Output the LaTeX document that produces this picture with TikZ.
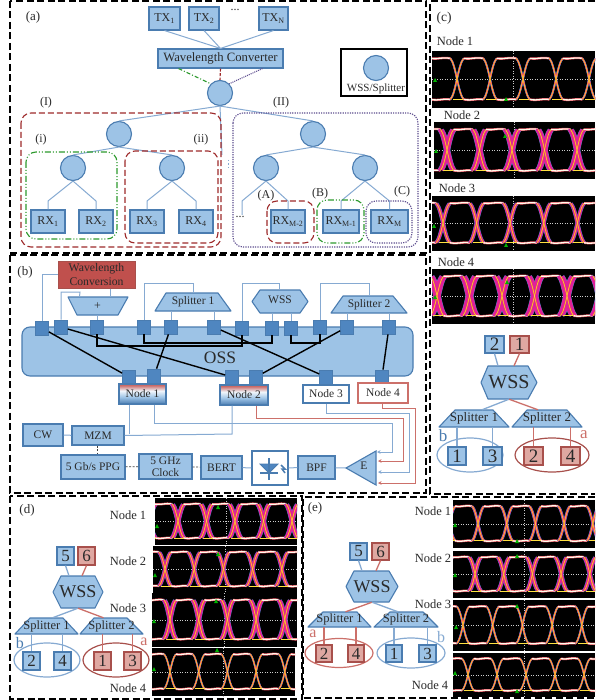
\documentclass[tikz,border=0pt]{standalone}
\usepackage{fontspec}
\setmainfont{Liberation Serif}
\usetikzlibrary{arrows.meta,shapes.geometric}
\definecolor{nfill}{HTML}{9DC3E6}
\definecolor{nedge}{HTML}{4A7CB0}
\definecolor{lblue}{HTML}{86AAD2}
\definecolor{rfill}{HTML}{DFA8A2}
\definecolor{redge}{HTML}{A8504C}
\definecolor{lred}{HTML}{CC706A}
\definecolor{txt}{HTML}{2A2A2A}
\definecolor{dred}{HTML}{9E2A2B}
\definecolor{dgreen}{HTML}{2E9A2E}
\definecolor{dpurple}{HTML}{5F4F90}
\definecolor{portc}{HTML}{4F86C0}
\definecolor{convc}{HTML}{C0504D}
\definecolor{emag}{HTML}{E0209A}
\definecolor{eblue}{HTML}{3090D0}
\definecolor{eora}{HTML}{F56A30}
\definecolor{eyel}{HTML}{FFE040}
\pgfdeclareverticalshading{nodegrad}{100bp}{color(0bp)=(nedge); color(25bp)=(nedge); color(42bp)=(nfill); color(58bp)=(white!85!nfill); color(72bp)=(convc!85!white); color(100bp)=(convc!85!white)}
\newcommand\fsz[1]{\fontsize{#1}{#1}\selectfont}
\tikzset{
 x=1pt,y=-1pt,
 panelframe/.style={draw=black,line width=1.5pt,dash pattern=on 7pt off 3.5pt},
 bluebox/.style={draw=nedge,fill=nfill,line width=1.1pt,inner sep=0pt,text=txt},
 redbox/.style={draw=redge,fill=rfill,line width=1.1pt,inner sep=0pt,text=txt},
 ghost/.style={inner sep=0pt,text=txt},
 disc/.style={circle,draw=nedge,fill=nfill,line width=1.1pt,minimum size=25pt,inner sep=0pt},
 lab/.style={inner sep=0pt,text=txt},
 wire/.style={draw=lblue,line width=1pt},
 rwire/.style={draw=lred,line width=1pt},
 bwire/.style={draw=black,line width=1.4pt},
 tbl/.style={draw=lblue,line width=1.3pt},
 trd/.style={draw=lred,line width=1.3pt},
 port/.style={draw=nedge,fill=portc,line width=.7pt,minimum width=13pt,minimum height=14pt,inner sep=0pt},
 regred/.style={draw=dred,line width=1.1pt,dash pattern=on 6pt off 3pt,rounded corners=10pt},
 reggreen/.style={draw=dgreen,line width=1.1pt,dash pattern=on 6pt off 2pt on 1pt off 2pt on 1pt off 2pt,rounded corners=10pt},
 regpurple/.style={draw=dpurple,line width=1.1pt,dash pattern=on 1.2pt off 1.2pt,rounded corners=10pt},
 ring/.style={ellipse,line width=1.2pt,inner sep=0pt},
 bdash/.style={draw=black!75,line width=.7pt,dash pattern=on 2pt off 1.5pt},
 intoE/.style={-{Stealth[length=3.5pt,width=3.5pt]}},
}
\newcommand\bx[7]{%
 \pgfmathsetmacro\bcx{(#3+#5)/2}\pgfmathsetmacro\bcy{(#4+#6)/2}%
 \pgfmathsetmacro\bw{#5-#3}\pgfmathsetmacro\bh{#6-#4}%
 \node[#1,minimum width=\bw pt,minimum height=\bh pt] (#2) at (\bcx,\bcy) {#7};}
\newcommand\trapn[9]{%
 \filldraw[draw=nedge,fill=nfill,line width=1.1pt,line join=round] (#3,#8)--(#4,#7)--(#5,#7)--(#6,#8)--cycle;
 \pgfmathsetmacro\bcx{(#3+#6)/2}\pgfmathsetmacro\bcy{(#7+#8)/2}%
 \pgfmathsetmacro\bw{max(#6-#3,#5-#4)}\pgfmathsetmacro\bh{abs(#8-#7)}%
 \node[ghost,#1,minimum width=\bw pt,minimum height=\bh pt] (#2) at (\bcx,\bcy) {#9};}
\newcommand\hexn[9]{%
 \pgfmathsetmacro\bcx{(#3+#6)/2}\pgfmathsetmacro\bcy{(#7+#8)/2}%
 \filldraw[draw=nedge,fill=nfill,line width=1.1pt,line join=round] (#3,\bcy)--(#4,#7)--(#5,#7)--(#6,\bcy)--(#5,#8)--(#4,#8)--cycle;
 \pgfmathsetmacro\bw{#6-#3}\pgfmathsetmacro\bh{#8-#7}%
 \node[ghost,#1,minimum width=\bw pt,minimum height=\bh pt] (#2) at (\bcx,\bcy) {#9};}
\newcommand\eyediag[8]{%
 \begin{scope}
 \clip (#1,#2) rectangle ++(#3,#4);
 \fill[black] (#1,#2) rectangle ++(#3,#4);
 \pgfmathsetmacro\eyt{#2+.13*#4}\pgfmathsetmacro\eyb{#2+.85*#4}%
 \pgfmathsetmacro\eym{#2+.5*#4}\pgfmathsetmacro\exm{#1+.5*#3}%
 \draw[white!80!black,line width=.3pt,dash pattern=on 1pt off 1.5pt] (#1,\eym)--++(#3,0);
 \draw[white!80!black,line width=.3pt,dash pattern=on 1pt off 1.5pt] (\exm,#2)--++(0,#4);
 \pgfmathsetmacro\ea{.2*#6}\pgfmathsetmacro\ev{.16*(\eyb-\eyt)}%
 \foreach \k in {-1,...,6}{%
  \pgfmathsetmacro\ecx{#5+\k*#6}%
  \pgfmathsetmacro\el{\ecx-\ea}\pgfmathsetmacro\er{\ecx+\ea}%
  \pgfmathsetmacro\eli{\ecx-.15*\ea}\pgfmathsetmacro\eri{\ecx+.15*\ea}%
  \pgfmathsetmacro\ept{\eyt+\ev}\pgfmathsetmacro\epb{\eyb-\ev}%
  \foreach \es/\ecol/\ew in {-#7/eblue/.6,#7/eblue/.6,-#7/emag/0,#7/emag/0}{%
   \pgfmathsetmacro\elw{#8+\ew}%
   \draw[\ecol,line width=\elw pt] (\el+\es,\eyt) .. controls (\eli+\es,\ept) and (\eri+\es,\epb) .. (\er+\es,\eyb);
   \draw[\ecol,line width=\elw pt] (\er-\es,\eyt) .. controls (\eri-\es,\ept) and (\eli-\es,\epb) .. (\el-\es,\eyb);
  }
  \foreach \ecol/\elw in {eora/1.2,eyel/.4}{%
   \draw[\ecol,line width=\elw pt] (\el,\eyt) .. controls (\eli,\ept) and (\eri,\epb) .. (\er,\eyb);
   \draw[\ecol,line width=\elw pt] (\er,\eyt) .. controls (\eri,\ept) and (\eli,\epb) .. (\el,\eyb);
  }
  \pgfmathsetmacro\en{\ecx+#6-\ea}\pgfmathsetmacro\ec{\er+.3*#6}\pgfmathsetmacro\ed{\en-.3*#6}%
  \foreach \ecol/\elw in {eora!60!emag/2.3,white!90!eyel/1.3}{%
   \draw[\ecol,line width=\elw pt] (\er,\eyt) .. controls (\ec,\eyt+1) and (\ed,\eyt-1.5) .. (\en,\eyt);
   \draw[\ecol,line width=\elw pt] (\er,\eyb) .. controls (\ec,\eyb+1.5) and (\ed,\eyb-1) .. (\en,\eyb);
  }
  \draw[eyel,line width=.7pt] (\ecx-4,\eyb) -- (\ecx+6,\eyb);
 }
 \end{scope}}
\newcommand\gmark[2]{\fill[green!70!black] (#1,#2) ++(0,-2) -- ++(2,4) -- ++(-4,0) -- cycle;}
\begin{document}
\begin{tikzpicture}
\useasboundingbox (0,0) rectangle (595,700);
\fill[white] (0,0) rectangle (595,700);
% ---------- panel (a)
\tikzset{f12/.style={font=\fsz{12}},f11/.style={font=\fsz{11}},f13/.style={font=\fsz{13}},nlb/.style={font=\fsz{12.5}}}
\bx{bluebox,f12}{tx1}{149}{7}{180}{30}{TX\textsubscript{1}}
\bx{bluebox,f12}{tx2}{189}{7}{219}{30}{TX\textsubscript{2}}
\bx{bluebox,f12}{txn}{259}{7}{288}{30}{TX\textsubscript{N}}
\node[lab,f12] (txdots) at (235,10) {...};
\bx{bluebox,font=\fsz{12.7}}{wc}{158}{49}{283}{68}{Wavelength Converter}
\node[disc] (c0) at (220,93) {};
\node[disc] (l1) at (119,134) {};
\node[disc] (l2) at (313,134) {};
\node[disc] (m1) at (73,168) {};
\node[disc] (m2) at (172,168) {};
\node[disc] (m3) at (266,168) {};
\node[disc] (m4) at (365,168) {};
\bx{bluebox,f12}{rx1}{31}{210}{65}{233}{RX\textsubscript{1}}
\bx{bluebox,f12}{rx2}{79}{210}{113}{233}{RX\textsubscript{2}}
\bx{bluebox,f12}{rx3}{130}{210}{164}{233}{RX\textsubscript{3}}
\bx{bluebox,f12}{rx4}{179}{210}{213}{233}{RX\textsubscript{4}}
\bx{bluebox,f12}{rxa}{271}{210}{305}{233}{RX\textsubscript{M-2}}
\bx{bluebox,f12}{rxb}{323}{210}{359}{233}{RX\textsubscript{M-1}}
\bx{bluebox,f12}{rxc}{371}{210}{408}{233}{RX\textsubscript{M}}
\coordinate (gapend) at (222,155);
\coordinate (leftend) at (242,215);
\draw[wire] (tx1.south) -- (wc.north) (tx2.south) -- (wc.north) (txn.south) -- (wc.north);
\draw[wire] (c0.south) -- (l1.north) (c0.south) -- (l2.north) (c0.south) -- (gapend);
\draw[wire] (l1.south) -- (m1.north) (l1.south) -- (m2.north) (l2.south) -- (m3.north) (l2.south) -- (m4.north);
\draw[wire] (m1.south) -- (rx1.north |- 0,201) -- (rx1.north);
\draw[wire] (m1.south) -- (rx2.north |- 0,201) -- (rx2.north);
\draw[wire] (m2.south) -- (rx3.north |- 0,201) -- (rx3.north);
\draw[wire] (m2.south) -- (rx4.north |- 0,201) -- (rx4.north);
\draw[wire] (m3.south) -- (242,201) -- (leftend);
\draw[wire] (m3.south) -- (rxa.north |- 0,201) -- (rxa.north);
\draw[wire] (m4.south) -- (rxb.north |- 0,201) -- (rxb.north);
\draw[wire] (m4.south) -- (rxc.north |- 0,201) -- (rxc.north);
\draw[draw=dgreen,line width=1.1pt,dash pattern=on 4pt off 2pt on 1pt off 2pt] ([xshift=-42pt]wc.south) -- (c0.north west);
\draw[draw=dred,line width=1.1pt,dash pattern=on 3pt off 1.5pt] (wc.south) -- (c0.north);
\draw[draw=dpurple,line width=1.1pt,dash pattern=on 1pt off 1pt] ([xshift=42pt]wc.south) -- (c0.north east);
\draw[regred] (21,113) rectangle (221,247);
\draw[reggreen] (26,152) rectangle (117,239);
\draw[regred] (125,151) rectangle (218,243);
\draw[regpurple] (233,113) rectangle (418,247);
\draw[regred] (267,201) rectangle (314,243);
\draw[reggreen] (317,200) rectangle (364,243);
\draw[regpurple] (366,201) rectangle (412,243);
\draw[draw=lblue,line width=1pt,dash pattern=on 1.5pt off 2pt] (228,160) -- (228,170);
\node[lab,f12] (rxdots) at (240,217) {...};
\node[lab,f13] (pa) at (33,17) {(a)};
\node[lab,f12] (pI) at (46,103) {(I)};
\node[lab,f12] (pII) at (281,103) {(II)};
\node[lab,f12] (pi) at (41,140) {(i)};
\node[lab,f12] (pii) at (201,140) {(ii)};
\node[lab,f12] (pA) at (266,196) {(A)};
\node[lab,f12] (pB) at (320,194) {(B)};
\node[lab,f12] (pC) at (402,192) {(C)};
\bx{draw=black,line width=1.2pt,fill=white,inner sep=0pt}{legend}{341}{49}{407}{96}{}
\node[disc] (legc) at (376,68) {};
\node[lab,f11] (legt) at (376,89) {WSS/Splitter};
% ---------- panel (b)
\bx{draw=nedge,fill=nfill,line width=1.1pt,rounded corners=8pt}{oss}{22}{327}{413}{376}{}
\node[lab,font=\fsz{17.5}] (osst) at (220,358) {OSS};
\bx{draw=redge,fill=convc,line width=1pt,inner sep=0pt,text=txt,align=center,font=\fsz{11.7}}{conv}{58}{261}{135}{288}{Wavelength\\[2pt]Conversion}
\trapn{font=\fsz{12}}{adder}{77}{68}{128}{118}{297}{315}{+}
\trapn{font=\fsz{11.5}}{sp1}{155}{166}{218}{231}{293}{311}{Splitter 1}
\hexn{font=\fsz{11.5}}{wssb}{252}{260}{300}{308}{290}{313}{\raisebox{4pt}{WSS}}
\trapn{font=\fsz{11.5}}{sp2}{331}{343}{393}{407}{296}{313}{Splitter 2}
\foreach \n/\px/\py in {p1/42/328,p2/61/327,p3/97/327,p4/144/327,p5/171/327,p6/214/327,p7/242/328,p8/272/328,p9/291/328,p10/320/327,p11/347/327,p12/389/327,q1/129/377,q2/154/376,q3/232/377,q4/256/377,q5/326/377,q6/382/377}{
 \node[port] (\n) at (\px,\py) {};
}
\draw[bwire] (p1) -- (q1);
\draw[bwire] (p2) -- (q3);
\draw[bwire] (p5) -- (q2);
\draw[bwire] (p6) -- (q5);
\draw[bwire] (p11) -- (q4);
\draw[bwire] (p12) -- (q6);
\draw[bwire] (p3.south) -- (97,346) -- (p7.south |- 0,346) -- (p7.south);
\draw[bwire] (p4.south) -- (144,343) -- (p8.south |- 0,343) -- (p8.south);
\draw[bwire] (p9.south) -- (291,343) -- (p10.south |- 0,343) -- (p10.south);
\draw[wire] (p1.north) |- (conv.west);
\draw[wire] (p2.north) -- (61,292) -- (80,292) -- ([xshift=-18pt]adder.north);
\draw[wire] ([xshift=13.5pt]conv.south) -- ([xshift=12.5pt]adder.north);
\draw[wire] (p3.north) -- (p3.north |- adder.south);
\draw[wire] (p4.north) -- (144,283) -- (193,283) -- (sp1.north);
\draw[wire] (p5.north) -- (p5.north |- sp1.south);
\draw[wire] (p6.north) -- (p6.north |- sp1.south);
\draw[wire] (p7.north) -- (242,283) -- (279,283) -- ([xshift=-1pt]wssb.north);
\draw[wire] (p8.north) -- (p8.north |- wssb.south);
\draw[wire] (p9.north) -- (p9.north |- wssb.south);
\draw[wire] (p10.north) -- (320,283) -- (369,283) -- (sp2.north);
\draw[wire] (p11.north) -- (p11.north |- sp2.south);
\draw[wire] (p12.north) -- (p12.north |- sp2.south);
\tikzset{nodesh/.style={line width=1.1pt,inner sep=0pt,shading=nodegrad,draw=nedge,font=\fsz{11.5},text=txt}}
\bx{nodesh}{n1}{119}{384}{166}{404}{Node 1}
\bx{nodesh}{n2}{220}{385}{268}{405}{Node 2}
\bx{draw=nedge,fill=white,line width=1.2pt,inner sep=0pt,font=\fsz{11.5},text=txt}{n3}{303}{385}{349}{403}{Node 3}
\bx{draw=lred,fill=white,line width=1.2pt,inner sep=0pt,font=\fsz{11.5},text=txt}{n4}{358}{383}{408}{403}{Node 4}
\tikzset{lowbox/.style={bluebox,font=\fsz{11.5},align=center}}
\bx{lowbox}{cw}{23}{424}{63}{446}{CW}
\bx{lowbox}{mzm}{72}{426}{124}{445}{MZM}
\bx{lowbox}{ppg}{61}{455}{125}{479}{5 Gb/s PPG}
\bx{lowbox}{clk}{139}{454}{192}{479}{5 GHz\\[1pt]Clock}
\bx{lowbox}{bert}{201}{456}{242}{479}{BERT}
\bx{draw=nedge,fill=white,line width=1.2pt,inner sep=0pt}{pd}{252}{451}{288}{485}{}
\bx{lowbox}{bpf}{298}{456}{335}{479}{BPF}
\filldraw[draw=nedge,fill=nfill,line width=1.1pt] (346,468) -- (376,451) -- (376,485) -- cycle;
\node[lab,font=\fsz{11.5}] (amp) at (364,466) {E};
\coordinate (ampw) at (346,468);
\coordinate (e1) at (377,452);
\coordinate (e2) at (378,461);
\coordinate (e3) at (378,472);
\coordinate (e4) at (378,483);
\draw[wire] (cw) -- (mzm);
\draw[wire] (mzm.east) -- (232,434) -- ([xshift=-12pt]n2.south);
\draw[wire] ([xshift=-13.5pt]n1.south) -- (129,434);
\draw[wire,intoE] ([xshift=11.5pt]n1.south) -- (154,423) -- (392,423) -- (392,452) -- (e1);
\draw[rwire,intoE] ([xshift=12pt]n2.south) -- (256,418) -- (403,418) -- (403,461) -- (e2);
\draw[wire,intoE] (n3.south) -- (326,413) -- (409,413) -- (409,472) -- (e3);
\draw[rwire,intoE] ([xshift=-1pt]n4.south) -- (382,408) -- (415,408) -- (415,483) -- (e4);
\draw[bdash] ([xshift=-1pt]mzm.south) -- (ppg.north -| 97,0);
\draw[bdash] (ppg) -- (clk);
\draw[bdash] (clk) -- (bert);
\draw[wire] (bert) -- (pd);
\draw[wire] (pd) -- (bpf);
\draw[wire] (bpf) -- (ampw);
\filldraw[draw=nedge,fill=portc,line width=.8pt] (260,464) -- (278,464) -- (269,473) -- cycle;
\draw[nedge,line width=1.1pt] (260,473) -- (278,473) (269,458) -- (269,480);
\draw[nedge,line width=1.5pt] (281,465) -- (285,469) -- (282,469) -- (285,473);
\node[lab,f13] (pb) at (25,272) {(b)};
% ---------- panel (c)
\node[lab,font=\fsz{13.5}] (pc) at (444,18) {(c)};
\node[lab,nlb] (cn1) at (455,41) {Node 1};
\node[lab,nlb] (cn2) at (462,115) {Node 2};
\node[lab,nlb] (cn3) at (457,188) {Node 3};
\node[lab,nlb] (cn4) at (456,262) {Node 4};
\eyediag{432}{51}{163}{57}{457}{33}{0}{1.2}
\eyediag{434}{122}{161}{57}{447}{32.5}{1.6}{2.6}
\eyediag{432}{196}{163}{55}{443}{33.6}{.8}{1.8}
\eyediag{432}{269}{163}{55}{437}{32.5}{2}{3.2}
\gmark{435}{80}\gmark{506}{99}\gmark{436}{151}\gmark{505}{136}\gmark{434}{226}\gmark{506}{245}\gmark{435}{297}\gmark{507}{282}
\tikzset{digit/.style={font=\fsz{19}},splt/.style={font=\fsz{13}},hxt/.style={font=\fsz{20}}}
\node[ring,draw=lblue,minimum width=66pt,minimum height=34pt] (cb) at (470,455) {};
\node[ring,draw=redge,minimum width=74pt,minimum height=34pt] (cr) at (552,455) {};
\bx{bluebox,digit}{cs2}{485}{336}{504}{353}{2}
\bx{redbox,digit}{cs1}{510}{336}{529}{353}{1}
\hexn{hxt}{cw1}{481}{488}{528}{537}{366}{399}{WSS}
\trapn{splt}{csa}{439}{455}{493}{509}{410}{427}{Splitter 1}
\trapn{splt}{csb}{512}{527}{567}{582}{410}{427}{Splitter 2}
\bx{bluebox,digit}{cb1}{448}{447}{466}{465}{1}
\bx{bluebox,digit}{cb3}{483}{447}{502}{465}{3}
\bx{redbox,digit}{cb2}{524}{447}{543}{465}{2}
\bx{redbox,digit}{cb4}{561}{447}{580}{465}{4}
\draw[tbl] (cs2.south) -- ([xshift=-11pt]cw1.north);
\draw[trd] (cs1.south) -- ([xshift=5pt]cw1.north);
\draw[tbl] (cw1.south) -- ([xshift=8pt]csa.north);
\draw[trd] (cw1.south) -- ([xshift=-9pt]csb.north);
\draw[tbl] (cb1 |- csa.south) -- (cb1.north);
\draw[tbl] (cb3 |- csa.south) -- (cb3.north);
\draw[trd] (cb2 |- csb.south) -- (cb2.north);
\draw[trd] (cb4 |- csb.south) -- (cb4.north);
\node[lab,text=nedge,font=\fsz{17}] (clb) at (443,436) {b};
\node[lab,text=lred,font=\fsz{17}] (cla) at (584,435) {a};
% ---------- panel (d)
\node[lab,f13] (pd1) at (27,510) {(d)};
\node[lab,nlb] (dn1) at (128,515) {Node 1};
\node[lab,nlb] (dn2) at (128,561) {Node 2};
\node[lab,nlb] (dn3) at (128,608) {Node 3};
\node[lab,nlb] (dn4) at (128,688) {Node 4};
\eyediag{155}{498}{142}{47}{178}{28.5}{1.2}{2.2}
\eyediag{153}{546}{144}{47}{165}{29.2}{.8}{1.8}
\eyediag{152}{593}{145}{54}{170}{28.7}{1.2}{2.2}
\eyediag{152}{648}{143}{48}{170}{28.7}{0}{1}
\gmark{157}{526}\gmark{218}{507}\gmark{155}{575}\gmark{218}{554}\gmark{154}{621}\gmark{216}{601}\gmark{154}{669}\gmark{217}{650}
\tikzset{digitb/.style={font=\fsz{17}},splta/.style={font=\fsz{12.5}},hxtb/.style={font=\fsz{18}}}
\node[ring,draw=lblue,minimum width=66pt,minimum height=34pt] (db) at (47,660) {};
\node[ring,draw=redge,minimum width=66pt,minimum height=34pt] (dr) at (116,660) {};
\bx{bluebox,digitb}{ds5}{57}{547}{74}{565}{5}
\bx{redbox,digitb}{ds6}{78}{547}{95}{565}{6}
\hexn{hxtb}{dw1}{53}{61}{95}{103}{576}{608}{WSS}
\trapn{splta}{dsa}{15}{30}{63}{78}{618}{634}{Splitter 1}
\trapn{splta}{dsb}{80}{94}{127}{143}{618}{634}{Splitter 2}
\bx{bluebox,digitb}{db2}{23}{652}{40}{670}{2}
\bx{bluebox,digitb}{db4}{54}{652}{71}{670}{4}
\bx{redbox,digitb}{db1}{94}{652}{111}{670}{1}
\bx{redbox,digitb}{db3}{124}{652}{141}{670}{3}
\draw[tbl] (ds5.south) -- ([xshift=-9pt]dw1.north);
\draw[trd] (ds6.south) -- ([xshift=4pt]dw1.north);
\draw[tbl] (dw1.south) -- ([xshift=6pt]dsa.north);
\draw[trd] (dw1.south) -- ([xshift=-8pt]dsb.north);
\draw[tbl] (db2 |- dsa.south) -- (db2.north);
\draw[tbl] (db4 |- dsa.south) -- (db4.north);
\draw[trd] (db1 |- dsb.south) -- (db1.north);
\draw[trd] (db3 |- dsb.south) -- (db3.north);
\node[lab,text=nedge,font=\fsz{16}] (dlb) at (20,643) {b};
\node[lab,text=lred,font=\fsz{16}] (dla) at (144,642) {a};
% ---------- panel (e)
\node[lab,f13] (pe) at (315,508) {(e)};
\node[lab,nlb] (en1) at (433,511) {Node 1};
\node[lab,nlb] (en2) at (433,558) {Node 2};
\node[lab,nlb] (en3) at (433,604) {Node 3};
\node[lab,nlb] (en4) at (430,685) {Node 4};
\eyediag{453}{500}{142}{48}{478}{28.7}{.4}{1.4}
\eyediag{453}{551}{142}{47}{475}{28.7}{1}{1.8}
\eyediag{453}{600}{142}{51}{463}{29.7}{0}{1.2}
\eyediag{453}{653}{142}{44}{468}{29}{0}{1}
\gmark{455}{525}\gmark{517}{541}\gmark{455}{575}\gmark{517}{556}\gmark{456}{627}\gmark{517}{606}\gmark{455}{673}\gmark{517}{691}
\node[ring,draw=lred,minimum width=68pt,minimum height=29pt] (er) at (339,653) {};
\node[ring,draw=lblue,minimum width=68pt,minimum height=30pt] (eb) at (411,653) {};
\bx{bluebox,digitb}{es5}{350}{543}{367}{560}{5}
\bx{redbox,digitb}{es6}{372}{543}{389}{560}{6}
\hexn{hxtb}{ew1}{346}{354}{389}{398}{571}{602}{WSS}
\trapn{splta}{esa}{308}{323}{357}{371}{612}{627}{Splitter 1}
\trapn{splta}{esb}{374}{390}{423}{438}{612}{627}{Splitter 2}
\bx{redbox,digitb}{eb2}{316}{645}{332}{662}{2}
\bx{redbox,digitb}{eb4}{348}{645}{364}{662}{4}
\bx{bluebox,digitb}{eb1}{386}{645}{402}{662}{1}
\bx{bluebox,digitb}{eb3}{419}{645}{436}{662}{3}
\draw[tbl] (es5.south) -- ([xshift=-10pt]ew1.north);
\draw[trd] (es6.south) -- ([xshift=4pt]ew1.north);
\draw[trd] (ew1.south) -- ([xshift=6pt]esa.north);
\draw[tbl] (ew1.south) -- ([xshift=-8pt]esb.north);
\draw[trd] (eb2 |- esa.south) -- (eb2.north);
\draw[trd] (eb4 |- esa.south) -- (eb4.north);
\draw[tbl] (eb1 |- esb.south) -- (eb1.north);
\draw[tbl] (eb3 |- esb.south) -- (eb3.north);
\node[lab,text=lred,font=\fsz{16}] (ela) at (313,634) {a};
\node[lab,text=lblue,font=\fsz{16}] (elb) at (441,637) {b};
% ---------- frames
\draw[panelframe] (10,1) rectangle (426,253);
\draw[panelframe] (10,255) rectangle (426,493);
\draw[panelframe] (595,1) -- (430,1) -- (430,494) -- (595,494);
\draw[panelframe] (10,496) rectangle (302,699);
\draw[panelframe] (595,497) -- (303,497) -- (303,698) -- (595,698);
\end{tikzpicture}
\end{document}
